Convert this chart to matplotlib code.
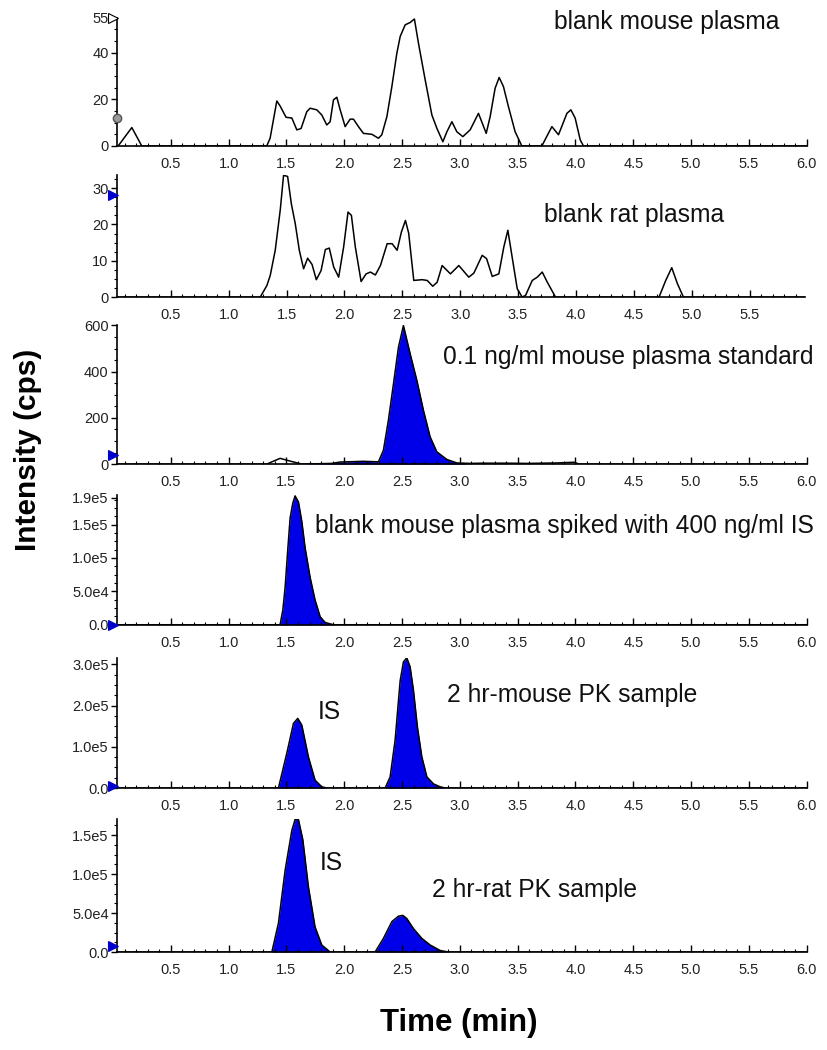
import matplotlib
matplotlib.use("Agg")
import matplotlib.pyplot as plt
import matplotlib.transforms as mtransforms
from matplotlib.ticker import AutoMinorLocator, MultipleLocator

plt.rcParams['font.family'] = ['Liberation Sans', 'DejaVu Sans']

# ---- data (time in min, intensity in cps) ----
mouse_blank_t = [0.045, 0.163, 0.249, 1.330, 1.359, 1.417, 1.445, 1.497, 1.547, 1.590,
                 1.627, 1.676, 1.705, 1.763, 1.806, 1.849, 1.878, 1.907, 1.936, 1.965,
                 2.008, 2.051, 2.080, 2.123, 2.166, 2.239, 2.296, 2.325, 2.369, 2.412,
                 2.455, 2.484, 2.527, 2.570, 2.607, 2.642, 2.700, 2.758, 2.801, 2.853,
                 2.888, 2.931, 2.974, 3.026, 3.089, 3.161, 3.228, 3.262, 3.305, 3.340,
                 3.377, 3.420, 3.478, 3.536, 3.709, 3.796, 3.853, 3.926, 3.960, 3.997,
                 4.041, 4.069, 6.0]
mouse_blank_y = [0, 7.9, 0, 0, 3.3, 19.3, 17.2, 12.3, 12.0, 6.9,
                 7.5, 14.7, 16.2, 15.5, 13.3, 9.0, 10.4, 19.8, 20.9, 15.5,
                 8.3, 11.5, 11.5, 8.3, 5.4, 5.0, 3.3, 4.8, 12.6, 25.5,
                 39.8, 47.0, 52.0, 53.0, 54.5, 44.1, 28.4, 13.3, 7.6, 1.8,
                 6.1, 10.4, 6.1, 4.0, 6.9, 14.0, 5.4, 12.6, 24.8, 29.4,
                 25.5, 16.9, 6.1, 0, 0, 8.3, 4.8, 14.0, 15.5, 12.0,
                 2.6, 0, 0]

rat_blank_t = [0.045, 1.272, 1.330, 1.359, 1.402, 1.445, 1.474, 1.509, 1.541, 1.575,
               1.610, 1.647, 1.682, 1.720, 1.757, 1.798, 1.835, 1.869, 1.907, 1.950,
               1.993, 2.031, 2.060, 2.094, 2.144, 2.187, 2.224, 2.267, 2.311, 2.369,
               2.412, 2.455, 2.492, 2.527, 2.555, 2.599, 2.671, 2.715, 2.763, 2.801,
               2.844, 2.916, 2.988, 3.074, 3.118, 3.190, 3.228, 3.277, 3.334, 3.377,
               3.412, 3.450, 3.493, 3.536, 3.565, 3.623, 3.666, 3.709, 3.753, 3.824,
               4.718, 4.776, 4.828, 4.877, 4.929, 5.98]
rat_blank_y = [0, 0, 3.2, 6.0, 12.9, 23.9, 33.5, 33.2, 25.7, 20.2,
               12.9, 7.8, 10.7, 9.0, 4.8, 7.3, 13.1, 13.5, 8.3, 5.5,
               13.8, 23.4, 22.5, 13.8, 4.3, 6.4, 6.9, 6.1, 8.7, 14.7,
               14.7, 12.9, 17.9, 21.1, 17.6, 4.6, 4.8, 4.6, 3.0, 4.1,
               8.7, 6.4, 8.7, 5.5, 6.6, 11.5, 10.6, 5.7, 6.4, 13.8,
               18.4, 10.8, 2.3, 0, 0.5, 4.6, 5.5, 6.9, 4.1, 0,
               0, 4.6, 8.1, 3.7, 0, 0]

std_t = [0.045, 1.330, 1.445, 1.532, 1.633, 1.893, 1.965, 2.164, 2.296, 2.339,
         2.382, 2.426, 2.469, 2.512, 2.570, 2.628, 2.685, 2.743, 2.801, 2.888,
         2.974, 3.089, 3.200, 3.410, 3.580, 3.840, 3.990, 4.030, 6.0]
std_y = [0, 0, 25, 13, 0, 3, 9, 12, 10, 60,
         190, 348, 506, 600, 478, 363, 233, 118, 53, 20,
         5, 3, 4, 4, 3, 5, 8, 0, 0]

is_t = [0.045, 1.445, 1.469, 1.489, 1.509, 1.532, 1.555, 1.575, 1.604, 1.633,
        1.662, 1.705, 1.748, 1.792, 1.835, 1.907, 6.0]
is_y = [0, 0, 2.2e4, 5.65e4, 1.06e5, 1.6e5, 1.82e5, 1.93e5, 1.84e5, 1.55e5,
        1.15e5, 7.1e4, 3.7e4, 1.2e4, 3.4e3, 0, 0]

mouse_pk_t = [0.045, 1.431, 1.503, 1.561, 1.598, 1.633, 1.690, 1.748, 1.806, 1.850,
              2.354, 2.397, 2.440, 2.484, 2.512, 2.541, 2.570, 2.599, 2.633, 2.671,
              2.715, 2.772, 2.830, 2.873, 6.0]
mouse_pk_y = [0, 0, 8.4e4, 1.57e5, 1.69e5, 1.53e5, 7.6e4, 1.9e4, 3e3, 0,
              0, 2.7e4, 1.16e5, 2.61e5, 3.06e5, 3.16e5, 2.94e5, 2.37e5, 1.48e5, 7.6e4,
              2.7e4, 1.0e4, 3e3, 0, 0]

rat_pk_t = [0.045, 1.374, 1.431, 1.489, 1.547, 1.575, 1.604, 1.642, 1.690, 1.748,
            1.806, 1.878, 2.267, 2.339, 2.412, 2.469, 2.507, 2.541, 2.599, 2.671,
            2.743, 2.829, 2.901, 6.0]
rat_pk_y = [0, 0, 3.7e4, 1.05e5, 1.56e5, 1.7e5, 1.7e5, 1.44e5, 8.4e4, 3.2e4,
            9e3, 0, 0, 1.75e4, 3.9e4, 4.6e4, 4.7e4, 4.3e4, 3.0e4, 1.75e4,
            9e3, 2e3, 0, 0]

# y axis ticks / labels per panel
ylims = [55, 33.5, 600, 1.95e5, 3.16e5, 1.71e5]
yticks = [[0, 20, 40, 55], [0, 10, 20, 30], [0, 200, 400, 600],
          [0, 5e4, 1e5, 1.5e5, 1.9e5], [0, 1e5, 2e5, 3e5], [0, 5e4, 1e5, 1.5e5]]
yticklabels = [['0', '20', '40', '55'], ['0', '10', '20', '30'], ['0', '200', '400', '600'],
               ['0.0', '5.0e4', '1.0e5', '1.5e5', '1.9e5'],
               ['0.0', '1.0e5', '2.0e5', '3.0e5'], ['0.0', '5.0e4', '1.0e5', '1.5e5']]
xticks_full = [0.5, 1.0, 1.5, 2.0, 2.5, 3.0, 3.5, 4.0, 4.5, 5.0, 5.5, 6.0]
xticks_short = xticks_full[:-1]

labels = ["blank mouse plasma", "blank rat plasma", "0.1 ng/ml mouse plasma standard",
          "blank mouse plasma spiked with 400 ng/ml IS", "2 hr-mouse PK sample",
          "2 hr-rat PK sample"]
label_pos = [(3.81, 53.3), (3.72, 22.5), (2.85, 462), (1.75, 1.475e5),
             (2.89, 2.25e5), (2.76, 7.9e4)]
is_pos = [None, None, None, None, (1.77, 1.84e5), (1.79, 1.14e5)]
# start-marker position on the y axis (value, colour)
markers = [(55, 'white'), (28, '#0000cc'), (40, '#0000cc'), (0, '#0000cc'),
           (4e3, '#0000cc'), (8e3, '#0000cc')]

traces = [(mouse_blank_t, mouse_blank_y), (rat_blank_t, rat_blank_y), (std_t, std_y),
          (is_t, is_y), (mouse_pk_t, mouse_pk_y), (rat_pk_t, rat_pk_y)]
filled = [False, False, True, True, True, True]

# axes boxes [left, bottom, width, height] in figure fractions
boxes = [[0.1415, 0.861, 0.834, 0.122],
         [0.1415, 0.717, 0.832, 0.116],
         [0.1415, 0.558, 0.834, 0.132],
         [0.1415, 0.405, 0.834, 0.124],
         [0.1415, 0.2495, 0.834, 0.124],
         [0.1415, 0.0933, 0.834, 0.127]]

blue = '#0000e8'
fig = plt.figure(figsize=(8.27, 10.5), dpi=100)

for i in range(6):
    ax = fig.add_axes(boxes[i])
    t, y = traces[i]
    if filled[i]:
        if i == 2:
            where = [1.88 <= v <= 3.0 for v in t]
            ax.fill_between(t, 0, y, where=where, color=blue, linewidth=0, interpolate=True)
        else:
            ax.fill_between(t, 0, y, color=blue, linewidth=0)
    ax.plot(t, y, color='black', linewidth=1.1)

    ax.set_xlim(0.035, 6.0 if i != 1 else 5.98)
    ax.set_ylim(0, ylims[i])
    ax.set_xticks(xticks_short if i == 1 else xticks_full)
    ax.set_xticklabels([f"{v:.1f}" for v in (xticks_short if i == 1 else xticks_full)])
    ax.xaxis.set_minor_locator(MultipleLocator(0.1))
    ax.set_yticks(yticks[i])
    ax.set_yticklabels(yticklabels[i])
    ax.yaxis.set_minor_locator(AutoMinorLocator(4))

    for s in ['top', 'right']:
        ax.spines[s].set_visible(False)
    for s in ['left', 'bottom']:
        ax.spines[s].set_linewidth(1.2)
    ax.tick_params(axis='x', which='major', direction='in', length=5, width=1,
                   labelsize=10.5, pad=8, labelcolor='#222222')
    ax.tick_params(axis='x', which='minor', direction='in', length=2.5, width=0.8)
    ax.tick_params(axis='y', which='major', direction='out', length=4, width=1,
                   labelsize=10.5, pad=2, labelcolor='#222222')
    ax.tick_params(axis='y', which='minor', direction='out', length=2, width=0.8)

    ax.text(label_pos[i][0], label_pos[i][1], labels[i], fontsize=17.7,
            ha='left', va='center', color='#111111')
    if is_pos[i] is not None:
        ax.text(is_pos[i][0], is_pos[i][1], "IS", fontsize=17.7, ha='left', va='center',
                color='#111111')

    trans = mtransforms.blended_transform_factory(ax.transAxes, ax.transData)
    mval, mcol = markers[i]
    ax.plot([-0.006], [mval], marker='>', markersize=7, color=mcol,
            markeredgecolor='black' if mcol == 'white' else mcol, markeredgewidth=0.8,
            transform=trans, clip_on=False, zorder=5)
    if i == 0:
        ax.plot([0.0], [12], marker='o', markersize=6, color='#999999',
                markeredgecolor='#555555', transform=trans, clip_on=False, zorder=5)

fig.text(0.034, 0.572, "Intensity (cps)", rotation=90, fontsize=21.5, fontweight='bold',
         ha='center', va='center')
fig.text(0.555, 0.026, "Time (min)", fontsize=22.5, fontweight='bold',
         ha='center', va='center')

fig.savefig("out.png", dpi=100)
